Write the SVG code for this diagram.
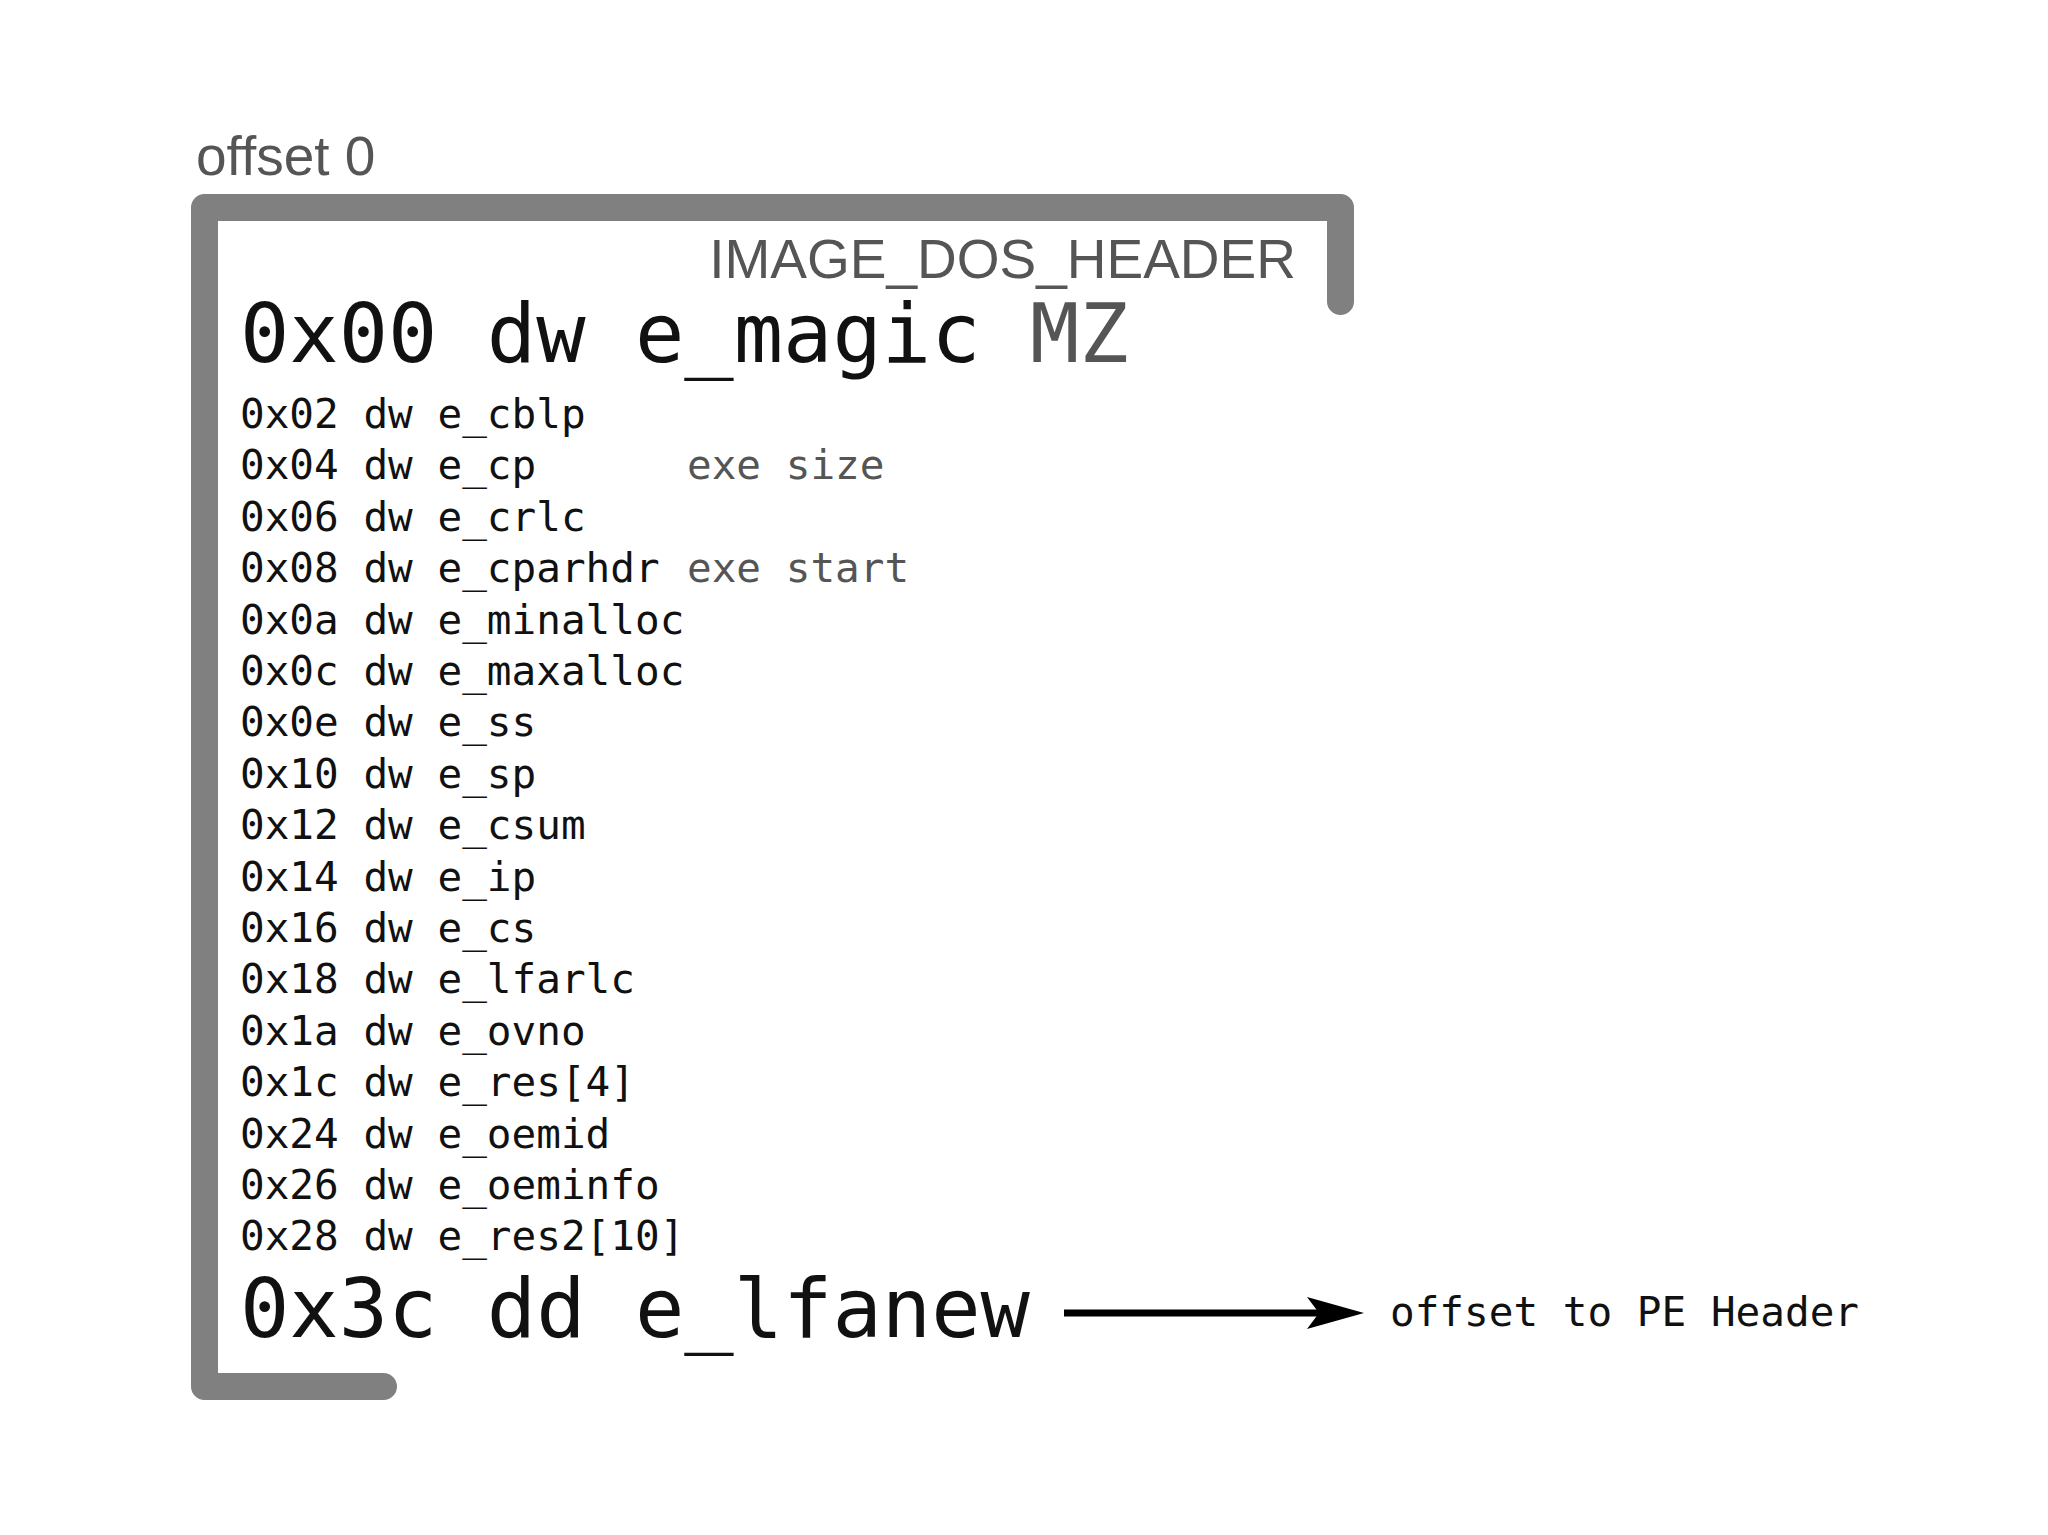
<svg xmlns="http://www.w3.org/2000/svg" width="2048" height="1535" viewBox="0 0 2048 1535">
<style>
.frame{fill:none;stroke:#808080;stroke-width:27;stroke-linecap:round;stroke-linejoin:round}
.label{font-family:"Liberation Sans",Arial,sans-serif;font-size:55px;fill:#555}
.big{font-family:"DejaVu Sans Mono","Liberation Mono",monospace;font-size:82px;fill:#111}
.small{font-family:"DejaVu Sans Mono","Liberation Mono",monospace;font-size:41px;fill:#111}
.note{fill:#555}
.conn{stroke:#000;stroke-width:7;fill:none}
</style>
<defs>
<marker id="arrow" markerUnits="userSpaceOnUse" markerWidth="60" markerHeight="34" refX="18" refY="16" orient="auto" overflow="visible">
<path d="M0,0 L57,16 L0,32 L12,16 Z" fill="#000"/>
</marker>
</defs>
<rect width="2048" height="1535" fill="#fff"/>
<g id="offset-label">
<text class="label" x="196" y="175">offset 0</text>
</g>
<g id="image-dos-header">
<path class="frame" d="M1340.5 301.5 L1340.5 207.5 L204.5 207.5 L204.5 1386.5 L383.5 1386.5"/>
<text class="label" x="1296" y="278" text-anchor="end">IMAGE_DOS_HEADER</text>
<text class="big" x="240" y="362">0x00 dw e_magic <tspan class="note">MZ</tspan></text>
<g class="small">
<text x="240" y="428">0x02 dw e_cblp</text>
<text x="240" y="479.4">0x04 dw e_cp<tspan class="note" x="687">exe size</tspan></text>
<text x="240" y="530.8">0x06 dw e_crlc</text>
<text x="240" y="582.2">0x08 dw e_cparhdr<tspan class="note" x="687">exe start</tspan></text>
<text x="240" y="633.6">0x0a dw e_minalloc</text>
<text x="240" y="685">0x0c dw e_maxalloc</text>
<text x="240" y="736.4">0x0e dw e_ss</text>
<text x="240" y="787.8">0x10 dw e_sp</text>
<text x="240" y="839.2">0x12 dw e_csum</text>
<text x="240" y="890.6">0x14 dw e_ip</text>
<text x="240" y="942">0x16 dw e_cs</text>
<text x="240" y="993.4">0x18 dw e_lfarlc</text>
<text x="240" y="1044.8">0x1a dw e_ovno</text>
<text x="240" y="1096.2">0x1c dw e_res[4]</text>
<text x="240" y="1147.6">0x24 dw e_oemid</text>
<text x="240" y="1199">0x26 dw e_oeminfo</text>
<text x="240" y="1250.4">0x28 dw e_res2[10]</text>
</g>
<text class="big" x="240" y="1337">0x3c dd e_lfanew</text>
</g>
<g id="pe-header-label">
<text class="small" x="1390" y="1326">offset to PE Header</text>
</g>
<g id="connectors">
<line class="conn" x1="1064" y1="1313" x2="1325" y2="1313" marker-end="url(#arrow)"/>
</g>
</svg>
